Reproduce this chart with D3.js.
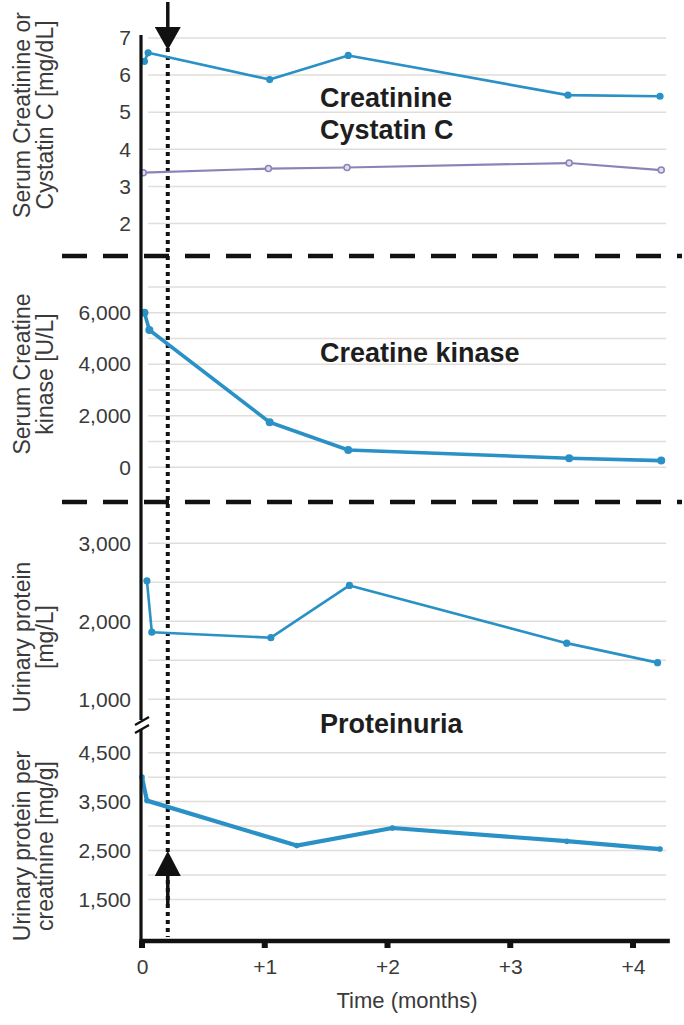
<!DOCTYPE html>
<html><head><meta charset="utf-8">
<script src="https://cdn.jsdelivr.net/npm/d3@7"></script>
<style>
html,body{margin:0;padding:0;background:#fff;}
svg{display:block;font-family:"Liberation Sans",Arial,Helvetica,sans-serif;}
</style></head>
<body>
<svg id="chart" width="684" height="1025"></svg>
<script>
// ---------- data ----------
const monthTicks = [0, 1, 2, 3, 4];
const monthTickLabels = ["0", "+1", "+2", "+3", "+4"];

const creatMonths = [0.02, 0.05, 1.04, 1.68, 3.47, 4.22];
const creatValues = [6.37, 6.60, 5.88, 6.53, 5.46, 5.43];

const cysMonths = [0.01, 1.03, 1.67, 3.48, 4.23];
const cysValues = [3.37, 3.48, 3.51, 3.63, 3.44];

const ckMonths = [0.02, 0.06, 1.04, 1.68, 3.48, 4.23];
const ckValues = [6000, 5330, 1750, 670, 350, 260];

const upMonths = [0.04, 0.08, 1.05, 1.69, 3.46, 4.20];
const upValues = [2520, 1860, 1790, 2460, 1720, 1470];

const upcrMonths = [0.00, 0.04, 1.26, 2.04, 3.46, 4.22];
const upcrValues = [4000, 3520, 2600, 2960, 2690, 2530];

const topTicks = [2, 3, 4, 5, 6, 7];
const ckTicks = [0, 2000, 4000, 6000];
const ckGrid = [0, 1000, 2000, 3000, 4000, 5000, 6000, 7000];
const upTicks = [1000, 2000, 3000];
const upGrid = [1000, 1500, 2000, 2500, 3000];
const upcrTicks = [1500, 2500, 3500, 4500];
const upcrGrid = [1500, 2000, 2500, 3000, 3500, 4000, 4500];

const treatmentMonth = 0.21;

// ---------- layout ----------
const svg = d3.select("#chart");
const BLUE = "#2a91c6";
const PURPLE = "#8884b6";
const GRID = "#e1ddd8";
const x = d3.scaleLinear().domain([0, 4]).range([142, 633]);
const xEnd = 4.3;

const yTop = d3.scaleLinear().domain([2, 7]).range([223.5, 38]);
const yCK = d3.scaleLinear().domain([0, 6000]).range([467.3, 312.7]);
const yUP = d3.scaleLinear().domain([1000, 3000]).range([699.3, 543.3]);
const yUPCR = d3.scaleLinear().domain([1500, 4500]).range([899.4, 752.7]);

const fmt = d3.format(",");

function grid(scale, vals) {
  svg.append("g").selectAll("line").data(vals).join("line")
    .attr("x1", x(0.05)).attr("x2", x(xEnd - 0.03))
    .attr("y1", d => scale(d)).attr("y2", d => scale(d))
    .attr("stroke", GRID).attr("stroke-width", 1.5);
}
grid(yTop, topTicks);
grid(yCK, ckGrid);
grid(yUP, upGrid);
grid(yUPCR, upcrGrid);

function yLabels(scale, vals, f) {
  const g = svg.append("g").attr("transform", `translate(${x(0) - 1},0)`)
    .call(d3.axisLeft(scale).tickValues(vals).tickFormat(f).tickSize(0).tickPadding(10));
  g.select(".domain").remove();
  g.selectAll("text").attr("font-size", 21).attr("fill", "#3a3a3a")
    .attr("font-family", "Liberation Sans, Arial, sans-serif");
}
yLabels(yTop, topTicks, d => d);
yLabels(yCK, ckTicks, fmt);
yLabels(yUP, upTicks, fmt);
yLabels(yUPCR, upcrTicks, fmt);

// dashed separators
[256, 502].forEach(yy => {
  svg.append("line").attr("x1", 62).attr("x2", 682).attr("y1", yy).attr("y2", yy)
    .attr("stroke", "#111").attr("stroke-width", 4.5).attr("stroke-dasharray", "25,16");
});

// dotted treatment line
svg.append("line").attr("x1", x(treatmentMonth)).attr("x2", x(treatmentMonth))
  .attr("y1", 48).attr("y2", 937)
  .attr("stroke", "#111").attr("stroke-width", 4).attr("stroke-dasharray", "4,4");

// arrows
const ax = x(treatmentMonth);
svg.append("line").attr("x1", ax).attr("x2", ax).attr("y1", 2).attr("y2", 29)
  .attr("stroke", "#111").attr("stroke-width", 3.5);
svg.append("path").attr("d", `M${ax - 13},27 L${ax + 13},27 L${ax},50 Z`).attr("fill", "#111");
svg.append("rect").attr("x", ax - 1.75).attr("y", 873).attr("width", 3.5).attr("height", 32).attr("fill", "#111");
svg.append("path").attr("d", `M${ax - 13},876 L${ax + 13},876 L${ax},851 Z`).attr("fill", "#111");

// series
function series(months, values, scale, color, width, r, fill) {
  const pts = months.map((m, i) => [x(m), scale(values[i])]);
  svg.append("path").attr("d", d3.line()(pts)).attr("fill", "none")
    .attr("stroke", color).attr("stroke-width", width).attr("stroke-linejoin", "round");
  svg.append("g").selectAll("circle").data(pts).join("circle")
    .attr("cx", d => d[0]).attr("cy", d => d[1]).attr("r", r)
    .attr("fill", fill || color).attr("stroke", color).attr("stroke-width", fill ? 1.5 : 0);
}
series(cysMonths, cysValues, yTop, PURPLE, 2.2, 3, "#dedcee");
series(creatMonths, creatValues, yTop, BLUE, 2.6, 3.6);
series(ckMonths, ckValues, yCK, BLUE, 3.6, 4);
series(upMonths, upValues, yUP, BLUE, 2.6, 3.6);
series(upcrMonths, upcrValues, yUPCR, BLUE, 4.2, 2.8);

// y axis line with break
svg.append("line").attr("x1", x(0) - 1).attr("x2", x(0) - 1).attr("y1", 35).attr("y2", 943)
  .attr("stroke", "#111").attr("stroke-width", 3.2);
svg.append("rect").attr("x", x(0) - 6).attr("y", 720).attr("width", 10).attr("height", 9).attr("fill", "#fff");
[[725, 717], [733, 725]].forEach(([a, b]) => {
  svg.append("line").attr("x1", x(0) - 7).attr("y1", a).attr("x2", x(0) + 7).attr("y2", b)
    .attr("stroke", "#111").attr("stroke-width", 2.2);
});

// x axis
const xg = svg.append("g").attr("transform", "translate(0,941)")
  .call(d3.axisBottom(x).tickValues(monthTicks).tickFormat((d, i) => monthTickLabels[i]).tickSize(0).tickPadding(18));
xg.select(".domain").remove();
xg.selectAll("text").attr("font-size", 21).attr("fill", "#3a3a3a")
  .attr("font-family", "Liberation Sans, Arial, sans-serif");
svg.append("line").attr("x1", x(0) - 2.5).attr("x2", x(xEnd)).attr("y1", 941).attr("y2", 941)
  .attr("stroke", "#111").attr("stroke-width", 4.5);
svg.append("g").selectAll("rect").data(monthTicks).join("rect")
  .attr("x", d => x(d) - 3).attr("y", 941).attr("width", 6).attr("height", 7).attr("fill", "#111");

// axis titles
function yTitle(lines, cy) {
  const xs = [22, 45];
  lines.forEach((t, i) => {
    svg.append("text").attr("transform", `translate(${xs[i]},${cy}) rotate(-90)`)
      .attr("text-anchor", "middle").attr("dy", "0.35em")
      .attr("font-size", 23).attr("fill", "#3a3a3a").text(t);
  });
}
yTitle(["Serum Creatinine or", "Cystatin C [mg/dL]"], 115);
yTitle(["Serum Creatine", "kinase [U/L]"], 374);
yTitle(["Urinary protein", "[mg/L]"], 637);
yTitle(["Urinary protein per", "creatinine [mg/g]"], 846);

svg.append("text").attr("x", 407).attr("y", 1008).attr("text-anchor", "middle")
  .attr("font-size", 22).attr("fill", "#3a3a3a").text("Time (months)");

// panel titles
[["Creatinine", 107], ["Cystatin C", 139], ["Creatine kinase", 362], ["Proteinuria", 733]].forEach(([t, yy]) => {
  svg.append("text").attr("x", 320).attr("y", yy).attr("font-size", 27).attr("font-weight", "bold")
    .attr("fill", "#1e1e1e").text(t);
});
</script>
</body></html>
